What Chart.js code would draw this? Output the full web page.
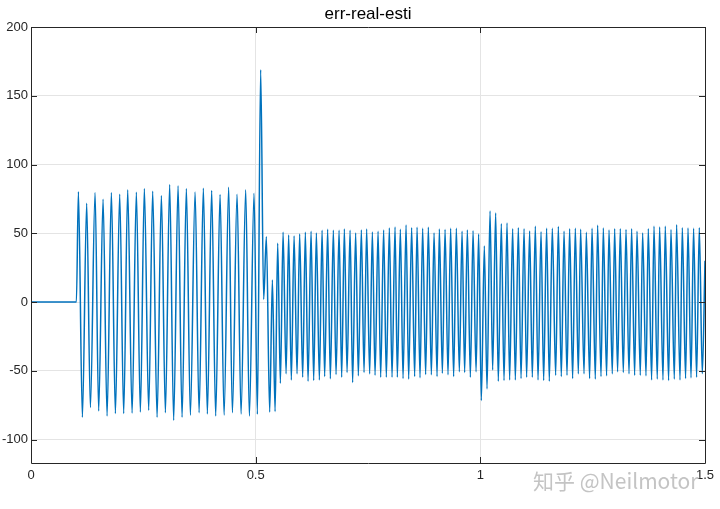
<!DOCTYPE html>
<html>
<head>
<meta charset="utf-8">
<script src="https://cdn.jsdelivr.net/npm/chart.js@4.4.1/dist/chart.umd.min.js"></script>
<style>
  html, body { margin: 0; padding: 0; background: #ffffff; }
  #wrap { position: relative; width: 720px; height: 509px; overflow: hidden; }
  #wm { position: absolute; left: 533px; top: 470px; font-family: "Noto Sans CJK SC", sans-serif;
        font-size: 21px; line-height: 1; color: #c4c4c4; white-space: nowrap;
        text-shadow: 0 0 2px #fff, 0 0 2px #fff; }
</style>
</head>
<body>
<div id="wrap">
  <canvas id="c" width="720" height="509"></canvas>
  <div id="wm">知乎 @Neilmotor</div>
</div>
<script>
// ---- chart text ----
const chartTitle = 'err-real-esti';
const xTickValues = [0, 0.5, 1, 1.5];
const xTickLabels = ['0', '0.5', '1', '1.5'];
const yTickValues = [-100, -50, 0, 50, 100, 150, 200];
const yTickLabels = ['-100', '-50', '0', '50', '100', '150', '200'];

// ---- signal: flat start and end point ----
const edgeTime = [0, 0.1010, 1.5];
const edgeErr  = [0, 0, 30];

// ---- signal: local maxima ----
const peakTime = [
  0.1055, 0.1239, 0.1426, 0.1604, 0.1789, 0.1974, 0.2152, 0.2345, 0.2523, 0.2708,
  0.2902, 0.3086, 0.3273, 0.3458, 0.3652, 0.3836, 0.4021, 0.4208, 0.4399, 0.4586,
  0.4778, 0.4964, 0.5111, 0.5238, 0.5372, 0.5490,
  0.5610, 0.5734, 0.5855, 0.5979, 0.6106, 0.6233, 0.6351, 0.6478, 0.6602, 0.6729,
  0.6856, 0.6974, 0.7101, 0.7225, 0.7352, 0.7470, 0.7597, 0.7724, 0.7848, 0.7975,
  0.8102, 0.8220, 0.8347, 0.8471, 0.8592, 0.8716, 0.8843, 0.8970, 0.9088, 0.9215,
  0.9339, 0.9466, 0.9593, 0.9711, 0.9838, 0.9962, 1.0089, 1.0216, 1.0341, 1.0467,
  1.0594, 1.0719, 1.0846, 1.0973, 1.1097, 1.1224, 1.1351, 1.1475, 1.1602, 1.1736,
  1.1863, 1.1987, 1.2114, 1.2232, 1.2359, 1.2486, 1.2610, 1.2737, 1.2864, 1.2989,
  1.3115, 1.3242, 1.3367, 1.3487, 1.3612, 1.3738, 1.3865, 1.3990, 1.4116, 1.4243,
  1.4368, 1.4495, 1.4622, 1.4746, 1.4873
];
const peakErr = [
  80.3, 71.8, 79.6, 74.8, 79.6, 78.4, 81.6, 79.9, 82.5, 80.6,
  77.4, 85.4, 84.5, 82.5, 80.1, 82.8, 81.1, 78.2, 83.5, 78.4,
  81.6, 79.1, 169, 47.5, 16, 42.7,
  50.7, 48.8, 48.0, 49.5, 50.7, 51.5, 50.2, 52.2, 52.9, 52.2,
  52.2, 53.2, 52.2, 50.2, 52.4, 53.2, 51.0, 51.5, 52.4, 53.9,
  54.6, 52.9, 56.0, 54.1, 54.4, 53.6, 54.4, 50.2, 53.2, 52.7,
  53.6, 53.6, 51.5, 52.4, 51.9, 49.5, 40.8, 66.3, 64.8, 57.0,
  57.5, 53.4, 54.1, 53.4, 51.7, 55.1, 51.2, 53.6, 53.6, 54.9,
  51.5, 53.4, 53.6, 52.9, 50.7, 53.6, 55.8, 53.9, 52.4, 53.4,
  53.4, 52.7, 53.4, 51.5, 50.2, 53.4, 55.1, 54.6, 55.1, 52.7,
  56.3, 54.1, 53.9, 53.6, 54.1
];

// ---- signal: local minima ----
const troughTime = [
  0.1144, 0.1322, 0.1506, 0.1693, 0.1878, 0.2063, 0.2250, 0.2434, 0.2619, 0.2806,
  0.2991, 0.3175, 0.3362, 0.3547, 0.3741, 0.3925, 0.4110, 0.4297, 0.4482, 0.4675,
  0.4860, 0.5038, 0.5178, 0.5312, 0.5432, 0.5550,
  0.5677, 0.5794, 0.5921, 0.6046, 0.6166, 0.6291, 0.6418, 0.6535, 0.6662, 0.6789,
  0.6914, 0.7034, 0.7158, 0.7285, 0.7412, 0.7537, 0.7657, 0.7782, 0.7908, 0.8035,
  0.8153, 0.8280, 0.8405, 0.8538, 0.8658, 0.8783, 0.8910, 0.9037, 0.9155, 0.9281,
  0.9406, 0.9533, 0.9651, 0.9778, 0.9905, 1.0022, 1.0149, 1.0274, 1.0400, 1.0527,
  1.0652, 1.0779, 1.0906, 1.1030, 1.1157, 1.1284, 1.1409, 1.1535, 1.1676, 1.1802,
  1.1929, 1.2054, 1.2181, 1.2308, 1.2432, 1.2559, 1.2686, 1.2810, 1.2937, 1.3055,
  1.3182, 1.3309, 1.3434, 1.3560, 1.3687, 1.3812, 1.3938, 1.4065, 1.4190, 1.4317,
  1.4444, 1.4568, 1.4689, 1.4813, 1.4940
];
const troughErr = [
  -83.7, -76.7, -79.2, -82.8, -81.0, -81.0, -80.7, -80.0, -78.7, -83.7,
  -80.4, -86.0, -83.7, -82.2, -80.4, -81.3, -82.8, -82.2, -80.5, -81.4,
  -82.8, -81.6, 2, -80.0, -79.5, -59.0,
  -52.2, -56.6, -52.2, -54.6, -57.5, -57.0, -56.6, -54.1, -55.8, -52.7,
  -54.6, -51.2, -58.5, -53.6, -51.2, -52.2, -53.2, -54.6, -54.6, -54.6,
  -54.6, -55.6, -56.0, -54.1, -55.1, -52.7, -52.9, -54.1, -51.7, -52.9,
  -54.1, -50.7, -51.2, -54.6, -50.7, -71.6, -63.1, -49.3, -57.5, -57.0,
  -56.6, -56.6, -55.6, -54.6, -54.6, -56.6, -57.0, -57.5, -53.2, -54.1,
  -53.2, -55.6, -52.2, -52.2, -55.6, -56.0, -54.1, -53.6, -52.2, -50.7,
  -51.2, -52.2, -53.2, -53.2, -53.6, -56.6, -56.0, -56.6, -57.0, -56.0,
  -56.6, -55.6, -55.1, -54.6, -52.0
];

// ---- build the point table from the arrays ----
const points = [];
edgeTime.forEach((t, i) => points.push({ x: t, y: edgeErr[i] }));
peakTime.forEach((t, i) => points.push({ x: t, y: peakErr[i] }));
troughTime.forEach((t, i) => points.push({ x: t, y: troughErr[i] }));
points.sort((a, b) => a.x - b.x);

const FRAME = '#262626';

const framePlugin = {
  id: 'frame',
  afterDatasetsDraw(chart) {
    const { ctx, chartArea: a, scales: { x, y } } = chart;
    ctx.save();
    ctx.strokeStyle = FRAME;
    ctx.lineWidth = 1;
    ctx.beginPath();
    ctx.rect(Math.round(a.left) + 0.5, Math.round(a.top) + 0.5,
             Math.round(a.right) - Math.round(a.left), Math.round(a.bottom) - Math.round(a.top));
    ctx.stroke();
    const tl = 6;
    ctx.beginPath();
    x.ticks.forEach(t => {
      const px = Math.round(x.getPixelForValue(t.value)) + 0.5;
      ctx.moveTo(px, a.bottom); ctx.lineTo(px, a.bottom - tl);
      ctx.moveTo(px, a.top); ctx.lineTo(px, a.top + tl);
    });
    y.ticks.forEach(t => {
      const py = Math.round(y.getPixelForValue(t.value)) + 0.5;
      ctx.moveTo(a.left, py); ctx.lineTo(a.left + tl, py);
      ctx.moveTo(a.right, py); ctx.lineTo(a.right - tl, py);
    });
    ctx.stroke();
    ctx.restore();
  }
};

const bgPlugin = {
  id: 'bg',
  beforeDraw(chart) {
    const { ctx } = chart;
    ctx.save();
    ctx.fillStyle = '#ffffff';
    ctx.fillRect(0, 0, chart.width, chart.height);
    ctx.restore();
  }
};

new Chart(document.getElementById('c'), {
  type: 'line',
  data: {
    datasets: [{
      label: chartTitle,
      data: points,
      borderColor: '#0072BD',
      borderWidth: 1.5,
      pointRadius: 0,
      fill: false,
      cubicInterpolationMode: 'monotone'
    }]
  },
  options: {
    responsive: false,
    animation: false,
    layout: { padding: { left: 0, right: 15, top: 0, bottom: 0 } },
    plugins: {
      legend: { display: false },
      tooltip: { enabled: false },
      title: {
        display: true,
        fullSize: false,
        text: chartTitle,
        color: '#000000',
        font: { family: 'Liberation Sans', size: 17, weight: 'normal', lineHeight: 1.2 },
        padding: { top: 4, bottom: 2.6 }
      }
    },
    scales: {
      x: {
        type: 'linear',
        min: 0, max: 1.5,
        afterBuildTicks: s => { s.ticks = xTickValues.map(v => ({ value: v })); },
        afterFit: s => { s.height = 46; },
        ticks: {
          color: FRAME,
          padding: 5,
          maxRotation: 0,
          font: { family: 'Liberation Sans', size: 13 },
          callback: (v) => { const i = xTickValues.indexOf(v); return i >= 0 ? xTickLabels[i] : ''; }
        },
        grid: { color: '#e4e4e4', drawTicks: false, lineWidth: 1 },
        border: { display: false }
      },
      y: {
        type: 'linear',
        min: -117, max: 200,
        afterBuildTicks: s => { s.ticks = yTickValues.map(v => ({ value: v })); },
        afterFit: s => { s.width = 31; },
        ticks: {
          color: FRAME,
          padding: 3,
          font: { family: 'Liberation Sans', size: 13 },
          callback: (v) => { const i = yTickValues.indexOf(v); return i >= 0 ? yTickLabels[i] : ''; }
        },
        grid: { color: '#e4e4e4', drawTicks: false, lineWidth: 1 },
        border: { display: false }
      }
    }
  },
  plugins: [bgPlugin, framePlugin]
});
</script>
</body>
</html>
